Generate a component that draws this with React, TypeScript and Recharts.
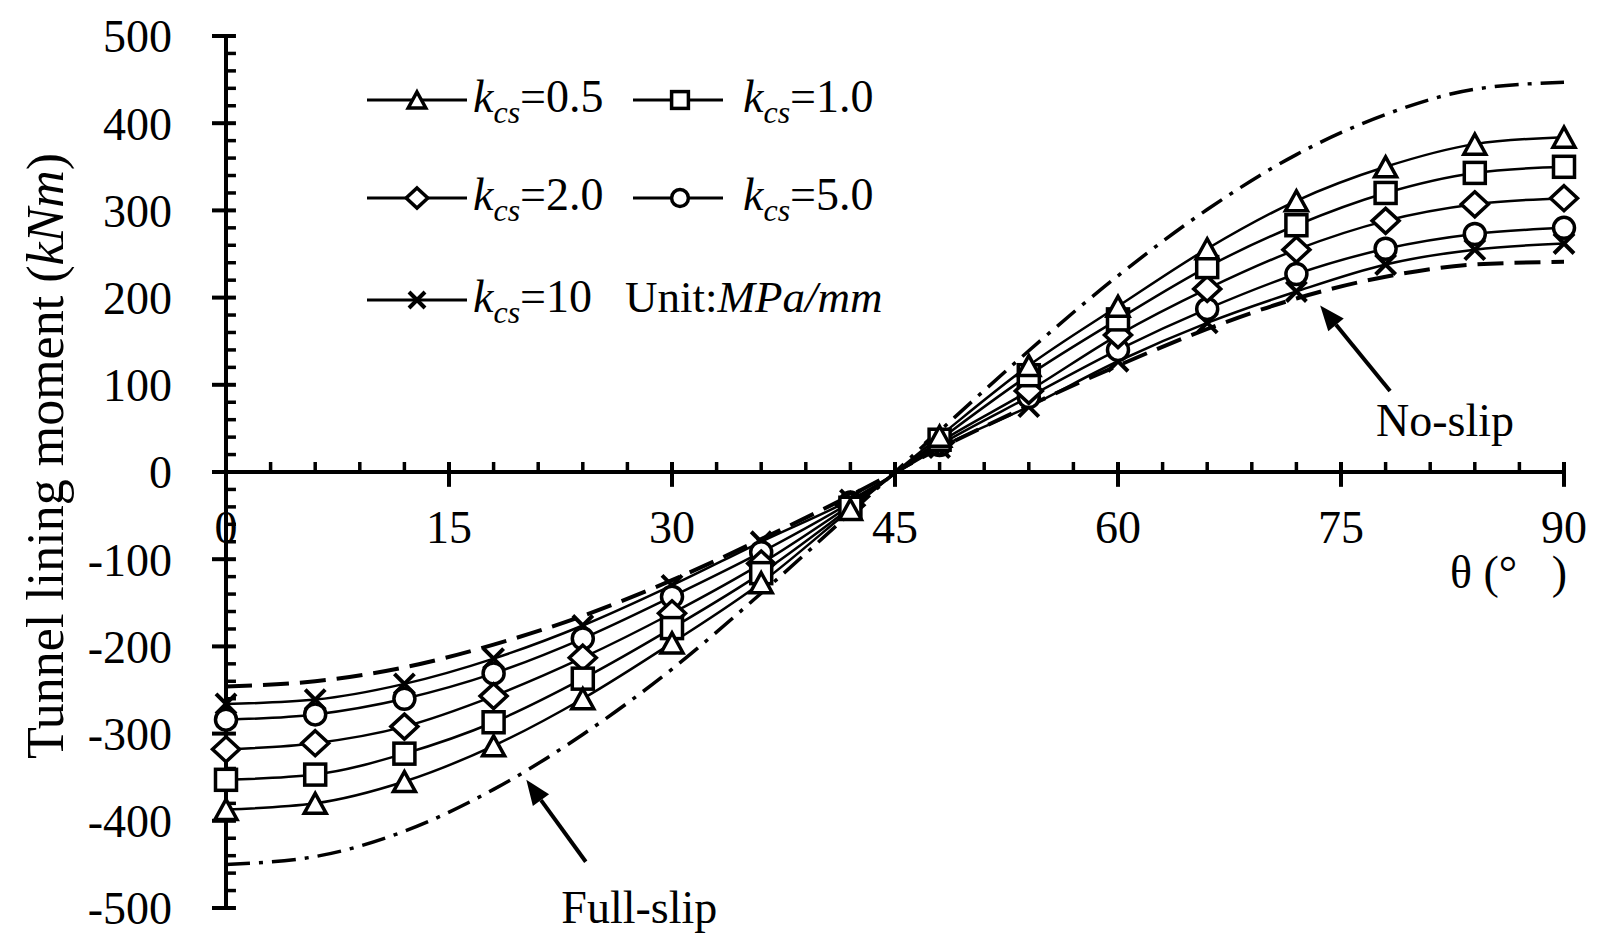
import { Legend, Line, LineChart, ReferenceDot, ReferenceLine, XAxis, YAxis } from "recharts";

const SERIF = '"Liberation Serif", "Times New Roman", serif';

// angle θ (deg) where the markers sit
const THETA = [0, 6, 12, 18, 24, 30, 36, 42, 48, 54, 60, 66, 72, 78, 84, 90];

// tunnel lining moment (kNm) per interface stiffness k_cs (MPa/mm)
const K05 = [-387, -380, -355, -314, -260, -196, -127, -43, 41, 122, 190, 256, 311, 350, 376, 384];
const K10 = [-353, -347, -323, -287, -237, -179, -116, -41, 37, 111, 175, 235, 283, 320, 343, 350];
const K20 = [-318, -311, -292, -257, -213, -162, -105, -38, 34, 93, 157, 210, 255, 288, 307, 314];
const K50 = [-284, -278, -260, -231, -191, -143, -92, -35, 31, 86, 140, 187, 227, 256, 273, 280];
const K100 = [-266, -261, -243, -214, -176, -130, -80, -32, 28, 75, 127, 171, 207, 238, 255, 262];

// bounding solutions
const FULL_SLIP = [-450, -441, -412, -364, -301, -226, -139, -47, 47, 139, 225, 301, 364, 410, 439, 447];
const NO_SLIP = [-246, -240, -224, -198, -165, -124, -77, -27, 27, 76, 122, 164, 199, 224, 238, 241];

const X_MAJOR = [15, 30, 45, 60, 75, 90];
const X_LABELS = [0, 15, 30, 45, 60, 75, 90];
const X_MINOR = [3, 6, 9, 12, 18, 21, 24, 27, 33, 36, 39, 42, 48, 51, 54, 57, 63, 66, 69, 72, 78, 81, 84, 87];
const Y_TICKS = [-500, -400, -300, -200, -100, 0, 100, 200, 300, 400, 500];
const Y_MINOR = Array.from({ length: 49 }, (_, i) => -480 + i * 20).filter((v) => v % 100 !== 0);

const LEGEND_LABELS = ["0.5", "1.0", "2.0", "5.0", "10"];
const LEGEND_KINDS = ["triangle", "square", "diamond", "circle", "cross"];

const rows = THETA.map((theta, i) => ({
  theta,
  k05: K05[i],
  k10: K10[i],
  k20: K20[i],
  k50: K50[i],
  k100: K100[i],
  fullSlip: FULL_SLIP[i],
  noSlip: NO_SLIP[i],
}));

function Marker({ kind, cx, cy, s = 1 }: { kind: string; cx: number; cy: number; s?: number }) {
  const st = { fill: "#fff", stroke: "#000", strokeWidth: 3.5 };
  if (kind === "triangle") {
    const w = 11 * s, h = 10 * s;
    return <polygon points={`${cx},${cy - h} ${cx + w},${cy + h} ${cx - w},${cy + h}`} {...st} />;
  }
  if (kind === "square") {
    const h = 10.5 * s;
    return <rect x={cx - h} y={cy - h} width={2 * h} height={2 * h} {...st} />;
  }
  if (kind === "diamond") {
    const w = 13.5 * s, h = 12.5 * s;
    return <polygon points={`${cx},${cy - h} ${cx + w},${cy} ${cx},${cy + h} ${cx - w},${cy}`} {...st} />;
  }
  if (kind === "circle") {
    return <circle cx={cx} cy={cy} r={10.5 * s} {...st} />;
  }
  const h = 10 * s;
  return (
    <path d={`M${cx - h},${cy - h}L${cx + h},${cy + h}M${cx - h},${cy + h}L${cx + h},${cy - h}`} stroke="#000" strokeWidth={4} fill="none" />
  );
}

function dotOf(kind: string) {
  return (p: any) => <Marker key={`${kind}-${p.index}`} kind={kind} cx={p.cx} cy={p.cy} />;
}

function LegendBox() {
  const slots = [
    { x: 27, y: 40, len: 100, m: 77, t: 133 },
    { x: 293, y: 40, len: 90, m: 340, t: 403 },
    { x: 27, y: 138, len: 100, m: 77, t: 133 },
    { x: 293, y: 138, len: 90, m: 340, t: 403 },
    { x: 27, y: 240, len: 100, m: 77, t: 133 },
  ];
  return (
    <svg width={560} height={280} style={{ overflow: "visible", display: "block" }}>
      {slots.map((s, i) => (
        <g key={LEGEND_LABELS[i]}>
          <line x1={s.x} x2={s.x + s.len} y1={s.y} y2={s.y} stroke="#000" strokeWidth={3} />
          <Marker kind={LEGEND_KINDS[i]} cx={s.m} cy={s.y} s={0.8} />
          <text x={s.t} y={s.y + 12} fontSize={46} fontFamily={SERIF} fill="#000">
            <tspan fontStyle="italic">k</tspan>
            <tspan fontStyle="italic" fontSize={32} dy={11}>cs</tspan>
            <tspan dy={-11}>={LEGEND_LABELS[i]}</tspan>
          </text>
        </g>
      ))}
      <text x={285} y={252} fontSize={45} fontFamily={SERIF} fill="#000">
        Unit:<tspan fontStyle="italic">MPa/mm</tspan>
      </text>
    </svg>
  );
}

function arrowShape(p: any) {
  const { x1, y1, x2, y2 } = p;
  const a = Math.atan2(y2 - y1, x2 - x1);
  const L = 25, W = 10;
  const bx = x2 - L * Math.cos(a), by = y2 - L * Math.sin(a);
  const nx = -Math.sin(a) * W, ny = Math.cos(a) * W;
  return (
    <g>
      <line x1={x1} y1={y1} x2={bx} y2={by} stroke="#000" strokeWidth={4} />
      <polygon points={`${x2},${y2} ${bx + nx},${by + ny} ${bx - nx},${by - ny}`} fill="#000" />
    </g>
  );
}

function textAt(value: string, dx: number, dy: number, anchor: "middle" | "end" | "start" = "middle") {
  return (p: any) => (
    <text x={p.cx + dx} y={p.cy + dy} textAnchor={anchor} fontSize={46} fontFamily={SERIF} fill="#000" style={{ whiteSpace: "pre" }}>
      {value}
    </text>
  );
}

export default function App() {
  const tick = { stroke: "#000", strokeWidth: 4 };
  return (
    <div style={{ position: "absolute", left: 0, top: 0, width: 1604, height: 943, background: "#fff" }}>
      <LineChart width={1604} height={943} data={rows} margin={{ top: 36, right: 40, bottom: 35, left: 0 }}>
        <XAxis type="number" dataKey="theta" domain={[0, 90]} hide />
        <YAxis
          type="number"
          domain={[-500, 500]}
          ticks={Y_TICKS}
          interval={0}
          width={226}
          tickSize={14}
          tickMargin={40}
          axisLine={tick}
          tickLine={tick}
          tick={{ fill: "#000", fontSize: 46, fontFamily: SERIF }}
          label={{
            content: (p: any) => {
              const vb = p.viewBox;
              return (
                <text
                  transform={`translate(${vb.x + 63},${vb.y + vb.height / 2 - 16}) rotate(-90)`}
                  textAnchor="middle"
                  fontSize={52}
                  fontFamily={SERIF}
                  fill="#000"
                >
                  Tunnel lining moment (<tspan fontStyle="italic">kNm</tspan>)
                </text>
              );
            },
          }}
        />

        {/* x axis drawn through zero */}
        <ReferenceLine y={0} stroke="#000" strokeWidth={4} />
        {X_MINOR.map((t) => (
          <ReferenceLine key={`xm${t}`} segment={[{ x: t, y: 0 }, { x: t, y: 11.5 }]} stroke="#000" strokeWidth={3.5} />
        ))}
        {X_MAJOR.map((t) => (
          <ReferenceLine key={`xM${t}`} segment={[{ x: t, y: -17 }, { x: t, y: 11.5 }]} stroke="#000" strokeWidth={4} />
        ))}
        {Y_MINOR.map((v) => (
          <ReferenceLine key={`ym${v}`} segment={[{ x: 0, y: v }, { x: 0.67, y: v }]} stroke="#000" strokeWidth={3.5} />
        ))}
        {Y_TICKS.map((v) => (
          <ReferenceLine key={`yM${v}`} segment={[{ x: 0, y: v }, { x: 0.67, y: v }]} stroke="#000" strokeWidth={4} />
        ))}
        {X_LABELS.map((t) => (
          <ReferenceDot key={`xl${t}`} x={t} y={0} r={0} shape={textAt(String(t), 0, 71)} />
        ))}
        <ReferenceDot x={90} y={0} r={0} shape={textAt("θ (°   )", 3, 116, "end")} />

        <Line dataKey="fullSlip" type="monotone" stroke="#000" strokeWidth={3.5} strokeDasharray="24 9 4 9" dot={false} isAnimationActive={false} />
        <Line dataKey="noSlip" type="monotone" stroke="#000" strokeWidth={4} strokeDasharray="26 11" dot={false} isAnimationActive={false} />
        <Line dataKey="k100" type="monotone" stroke="#000" strokeWidth={2.5} dot={dotOf("cross")} isAnimationActive={false} />
        <Line dataKey="k50" type="monotone" stroke="#000" strokeWidth={2.5} dot={dotOf("circle")} isAnimationActive={false} />
        <Line dataKey="k20" type="monotone" stroke="#000" strokeWidth={2.5} dot={dotOf("diamond")} isAnimationActive={false} />
        <Line dataKey="k10" type="monotone" stroke="#000" strokeWidth={2.5} dot={dotOf("square")} isAnimationActive={false} />
        <Line dataKey="k05" type="monotone" stroke="#000" strokeWidth={2.5} dot={dotOf("triangle")} isAnimationActive={false} />

        {/* annotations */}
        <ReferenceLine segment={[{ x: 78.3, y: 93 }, { x: 73.6, y: 191 }]} ifOverflow="visible" shape={arrowShape} />
        <ReferenceLine segment={[{ x: 24.2, y: -447 }, { x: 20.2, y: -353 }]} ifOverflow="visible" shape={arrowShape} />
        <ReferenceDot x={82} y={41} r={0} ifOverflow="visible" shape={textAt("No-slip", 0, 0)} />
        <ReferenceDot x={27.8} y={-499} r={0} ifOverflow="visible" shape={textAt("Full-slip", 0, 16)} />

        <Legend
          layout="vertical"
          align="center"
          verticalAlign="middle"
          wrapperStyle={{ left: 340, top: 60, width: 560, height: 280 }}
          content={() => <LegendBox />}
        />
      </LineChart>
    </div>
  );
}
